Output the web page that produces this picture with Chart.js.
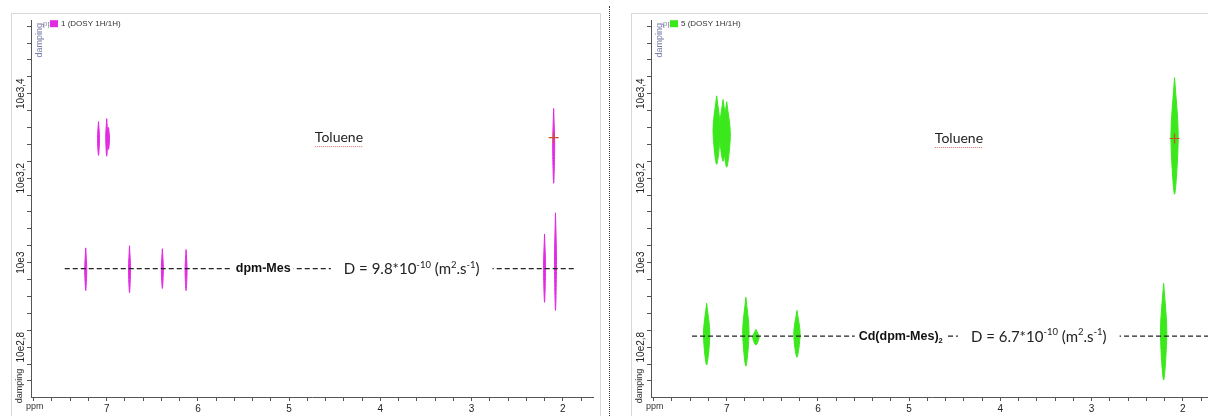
<!DOCTYPE html>
<html>
<head>
<meta charset="utf-8">
<script src="https://cdn.jsdelivr.net/npm/chart.js@4.4.1/dist/chart.umd.min.js"></script>
<style>
html, body { margin: 0; padding: 0; background: #fff; width: 1208px; height: 416px; overflow: hidden; position: relative; }
.frame { position: absolute; border: 1px solid #d8d8d8; box-sizing: border-box; }
.box { position: absolute; width: 588px; height: 402px; }
#sep { position: absolute; left: 609px; top: 6px; height: 412px; border-left: 1px dotted #333; }
</style>
</head>
<body>
<div class="frame" style="left:11px;top:13px;width:590px;height:420px"></div>
<div class="frame" style="left:631px;top:13px;width:600px;height:420px"></div>
<div id="sep"></div>
<div class="box" style="left:12px;top:14px"><canvas id="left"></canvas></div>
<div class="box" style="left:632px;top:14px"><canvas id="right"></canvas></div>
<script>
// axis labels
const ppmTickLabels = ['7', '6', '5', '4', '3', '2'];
const logTickValues = [2.8, 3.0, 3.2, 3.4];
const logTickLabels = ['10e2,8', '10e3', '10e3,2', '10e3,4'];

// spectrum 1 (free ligand in toluene)
const leftTolPpm = [7.09, 7.00, 6.98, 2.10];
const leftTolTop = [3.334, 3.341, 3.320, 3.365];
const leftTolBottom = [3.254, 3.252, 3.268, 3.188];
const leftCmpPpm = [7.23, 6.75, 6.39, 6.13, 2.20, 2.08];
const leftCmpTop = [3.035, 3.040, 3.033, 3.031, 3.068, 3.118];
const leftCmpBottom = [2.934, 2.929, 2.939, 2.934, 2.906, 2.887];
const leftTolLevel = 3.296;
const leftLevel = 2.986;
const leftName = ['dpm-Mes', ''];
const leftD = '9.8';

// spectrum 5 (Cd complex in toluene)
const rightTolPpm = [7.11, 7.04, 7.00, 2.09];
const rightTolTop = [3.395, 3.386, 3.381, 3.438];
const rightTolBottom = [3.233, 3.240, 3.226, 3.162];
const rightCmpPpm = [7.22, 6.79, 6.68, 6.23, 2.21];
const rightCmpTop = [2.904, 2.918, 2.842, 2.887, 2.951];
const rightCmpBottom = [2.758, 2.755, 2.805, 2.776, 2.722];
const rightTolLevel = 3.294;
const rightLevel = 2.826;
const rightName = ['Cd(dpm-Mes)', '2'];
const rightD = '6.7';

const SANS = '"Liberation Sans", Arial, sans-serif';

// draws text runs; shift 1 = superscript, -1 = subscript
function runs(ctx, x, y, parts, big, small, draw) {
  let w = 0;
  parts.forEach(([t, s]) => {
    ctx.font = s ? small : big;
    if (draw) ctx.fillText(t, x + w, y + (s === 1 ? -5 : s === -1 ? 5 : 0));
    w += ctx.measureText(t).width;
  });
  return w;
}

const overlay = {
  id: 'overlay',
  afterDatasetsDraw(chart, args, o) {
    const {ctx, chartArea: a, scales: {x, y}} = chart;
    ctx.save();
    ctx.textBaseline = 'middle';
    ctx.textAlign = 'left';
    const ly = y.getPixelForValue(o.level);

    // compound name on the dashed line
    const nameParts = [[o.name[0], 0], [o.name[1], -1]];
    const nBig = 'bold 12.5px ' + SANS, nSmall = 'bold 7.5px ' + SANS;
    const nx = x.getPixelForValue(o.nameAt);
    const nw = runs(ctx, 0, 0, nameParts, nBig, nSmall, false);
    ctx.fillStyle = '#fff';
    ctx.fillRect(nx - 4, ly - 8, nw + 7, 16);
    ctx.fillStyle = '#111';
    runs(ctx, nx, ly, nameParts, nBig, nSmall, true);

    // diffusion coefficient
    const dParts = [['D = ' + o.d + '*10', 0], ['-10', 1], [' (m', 0], ['2', 1], ['.s', 0], ['-1', 1], [')', 0]];
    const dBig = '15px Lato, sans-serif', dSmall = '9.5px Lato, sans-serif';
    const dx = x.getPixelForValue(o.dAt);
    const dw = runs(ctx, 0, 0, dParts, dBig, dSmall, false);
    ctx.fillStyle = '#fff';
    ctx.fillRect(dx - 13, ly - 9, dw + 26, 18);
    ctx.fillStyle = '#222';
    runs(ctx, dx, ly + 1, dParts, dBig, dSmall, true);

    // toluene label with spell-check underline
    const tx = x.getPixelForValue(o.tolAt), ty = y.getPixelForValue(o.tolLevel);
    ctx.font = '14px Lato, sans-serif';
    ctx.textAlign = 'center';
    ctx.fillStyle = '#222';
    ctx.fillText('Toluene', tx, ty);
    const tw = ctx.measureText('Toluene').width;
    ctx.strokeStyle = '#d86a6a';
    ctx.setLineDash([1, 1]);
    ctx.lineWidth = 1;
    ctx.beginPath();
    ctx.moveTo(tx - tw / 2, ty + 9);
    ctx.lineTo(tx + tw / 2, ty + 9);
    ctx.stroke();
    ctx.setLineDash([]);

    // legend / axis captions of the NMR software
    ctx.textAlign = 'left';
    ctx.font = '8px ' + SANS;
    ctx.fillStyle = '#8a8aa8';
    ctx.fillText('pp', a.left + 12, a.top + 4);
    ctx.fillStyle = o.color;
    ctx.fillRect(a.left + 19, a.top, 8, 7);
    ctx.fillStyle = '#333';
    ctx.fillText(o.title, a.left + 30, a.top + 4);
    ctx.font = '9px ' + SANS;
    ctx.fillText('ppm', a.left - 5, a.bottom + 10);

    ctx.save();
    ctx.translate(a.left + 9, a.top + 20);
    ctx.rotate(-Math.PI / 2);
    ctx.textAlign = 'center';
    ctx.fillStyle = '#7a7aa8';
    ctx.fillText('damping', 0, 0);
    ctx.restore();
    ctx.save();
    ctx.translate(a.left - 11, a.bottom - 11);
    ctx.rotate(-Math.PI / 2);
    ctx.textAlign = 'center';
    ctx.fillStyle = '#333';
    ctx.fillText('damping', 0, 0);
    ctx.restore();

    ctx.restore();
  }
};

function lensSets(ppm, top, bottom, hw, color) {
  return ppm.map((p, i) => {
    const mid = (top[i] + bottom[i]) / 2;
    return {
      data: [{x: p, y: top[i]}, {x: p - hw, y: mid}, {x: p, y: bottom[i]}, {x: p + hw, y: mid}, {x: p, y: top[i]}],
      showLine: true, fill: 'shape', tension: 0.3,
      backgroundColor: color, borderColor: color, borderWidth: 1,
      pointRadius: 0, order: 2
    };
  });
}

function makeChart(id, o) {
  const datasets = [
    ...lensSets(o.tolPpm, o.tolTop, o.tolBottom, o.tolHw, o.color),
    ...lensSets(o.cmpPpm, o.cmpTop, o.cmpBottom, o.cmpHw, o.color),
    {
      data: [{x: o.dashFrom, y: o.level}, {x: o.dashTo, y: o.level}],
      showLine: true, borderColor: '#222', borderWidth: 1.4, borderDash: [5, 3],
      pointRadius: 0, order: 1
    },
    {
      data: [{x: o.tolPpm[o.tolPpm.length - 1], y: o.tolLevel}],
      pointStyle: 'cross', pointRadius: 5, borderColor: '#c8502a', borderWidth: 1.2, order: 0
    }
  ];
  return new Chart(document.getElementById(id), {
    type: 'scatter',
    data: { datasets },
    options: {
      responsive: true,
      maintainAspectRatio: false,
      animation: false,
      layout: { padding: { left: 0, right: 2, top: 4, bottom: 0 } },
      plugins: { legend: { display: false }, tooltip: { enabled: false }, overlay: o },
      scales: {
        x: {
          type: 'linear', reverse: true, min: 1.66, max: 7.83,
          afterFit: (s) => { s.height = 19; },
          grid: { drawOnChartArea: false, tickLength: 4, color: '#555' },
          border: { color: '#555' },
          ticks: {
            stepSize: 0.2, includeBounds: false, autoSkip: false, maxRotation: 0,
            padding: 2, color: '#222', font: { size: 10, family: SANS },
            callback: (v) => {
              const k = ppmTickLabels.findIndex((t) => Math.abs(+t - v) < 1e-6);
              return k >= 0 ? ppmTickLabels[k] : '';
            }
          }
        },
        y: {
          type: 'linear', min: 2.682, max: 3.574,
          afterFit: (s) => { s.width = 19; },
          grid: { drawOnChartArea: false, tickLength: 4, color: '#555' },
          border: { color: '#555' },
          ticks: {
            stepSize: 0.04, includeBounds: false, autoSkip: false,
            minRotation: 90, maxRotation: 90, crossAlign: 'center', padding: -10,
            color: '#222', font: { size: 10, family: SANS },
            callback: (v) => {
              const k = logTickValues.findIndex((t) => Math.abs(t - v) < 1e-6);
              return k >= 0 ? logTickLabels[k] : '';
            }
          }
        }
      }
    },
    plugins: [overlay]
  });
}

makeChart('left', {
  title: '1 (DOSY 1H/1H)', color: '#e22ae2',
  tolPpm: leftTolPpm, tolTop: leftTolTop, tolBottom: leftTolBottom, tolHw: 0.011,
  cmpPpm: leftCmpPpm, cmpTop: leftCmpTop, cmpBottom: leftCmpBottom, cmpHw: 0.011,
  tolLevel: leftTolLevel, level: leftLevel, name: leftName, d: leftD,
  dashFrom: 7.46, dashTo: 1.85, nameAt: 5.585, dAt: 4.40, tolAt: 4.454
});

makeChart('right', {
  title: '5 (DOSY 1H/1H)', color: '#3be81c',
  tolPpm: rightTolPpm, tolTop: rightTolTop, tolBottom: rightTolBottom, tolHw: 0.04,
  cmpPpm: rightCmpPpm, cmpTop: rightCmpTop, cmpBottom: rightCmpBottom, cmpHw: 0.035,
  tolLevel: rightTolLevel, level: rightLevel, name: rightName, d: rightD,
  dashFrom: 7.38, dashTo: 1.66, nameAt: 5.553, dAt: 4.323, tolAt: 4.454
});
</script>
</body>
</html>
